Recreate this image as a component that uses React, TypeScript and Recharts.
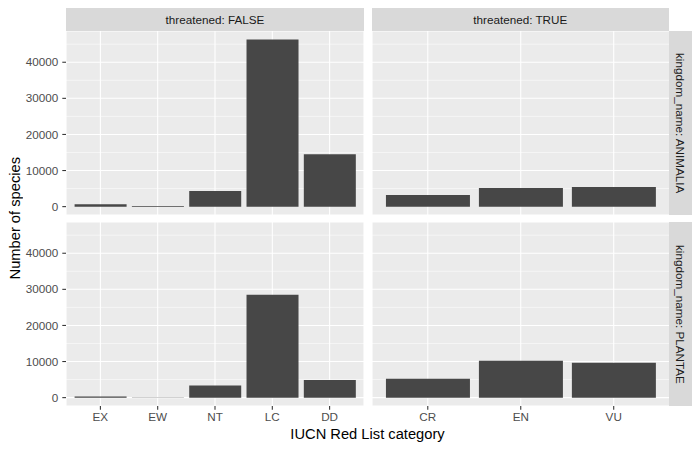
import React from "react";
import { BarChart, Bar, XAxis, YAxis, CartesianGrid } from "recharts";

const falseCategories = ["EX", "EW", "NT", "LC", "DD"];
const trueCategories = ["CR", "EN", "VU"];
const animaliaFalse = [650, 200, 4300, 46300, 14500];
const animaliaTrue = [3200, 5150, 5450];
const plantaeFalse = [280, 40, 3330, 28500, 4900];
const plantaeTrue = [5200, 10200, 9650];
const yTicks = [0, 10000, 20000, 30000, 40000];
const yMinorTicks = [5000, 15000, 25000, 35000, 45000];
const yDomain: [number, number] = [-2317, 48653];

const FONT = '"Liberation Sans", Arial, Helvetica, sans-serif';
const AXIS_TEXT = "#4D4D4D";
const TICK_LINE = "#333333";

const toRows = (cats: string[], values: number[]) =>
  cats.map((category, i) => ({ category, count: values[i] }));

interface PanelProps {
  categories: string[];
  values: number[];
  left: number;
  top: number;
  panelWidth: number;
  panelHeight: number;
  showY?: boolean;
  showX?: boolean;
}

const Y_AXIS_W = 66;
const X_AXIS_H = 28;

const Panel = ({
  categories,
  values,
  left,
  top,
  panelWidth,
  panelHeight,
  showY = false,
  showX = false,
}: PanelProps) => {
  // ggplot discrete expansion: 0.6 units each side, bars 0.9 wide
  const unit = panelWidth / (categories.length + 0.2);
  const pad = (panelWidth - unit * categories.length) / 2;
  const width = panelWidth + (showY ? Y_AXIS_W : 0);
  const height = panelHeight + (showX ? X_AXIS_H : 0);
  const tick = { fill: AXIS_TEXT, fontSize: 11.7, fontFamily: FONT };

  return (
    <div style={{ position: "absolute", left: left - (showY ? Y_AXIS_W : 0), top }}>
      <BarChart
        width={width}
        height={height}
        data={toRows(categories, values)}
        margin={{ top: 0, right: 0, bottom: 0, left: 0 }}
        barCategoryGap="5%"
      >
        <CartesianGrid
          fill="#EBEBEB"
          fillOpacity={1}
          stroke="#FFFFFF"
          strokeWidth={1.07}
        />
        <CartesianGrid
          horizontalValues={yMinorTicks}
          vertical={false}
          stroke="#FFFFFF"
          strokeWidth={0.53}
        />
        <XAxis
          dataKey="category"
          hide={!showX}
          height={X_AXIS_H}
          padding={{ left: pad, right: pad }}
          axisLine={false}
          tickLine={{ stroke: TICK_LINE, strokeWidth: 1.07 }}
          tickSize={3.7}
          tickMargin={2.5}
          tick={tick}
          interval={0}
        />
        <YAxis
          hide={!showY}
          width={Y_AXIS_W}
          domain={yDomain}
          ticks={yTicks}
          allowDataOverflow
          axisLine={false}
          tickLine={{ stroke: TICK_LINE, strokeWidth: 1.07 }}
          tickSize={3.7}
          tickMargin={4}
          tick={tick}
        />
        <Bar dataKey="count" fill="#474747" isAnimationActive={false} />
      </BarChart>
    </div>
  );
};

const stripBase: React.CSSProperties = {
  position: "absolute",
  background: "#D9D9D9",
  color: "#1A1A1A",
  fontSize: 11.7,
  display: "flex",
  alignItems: "center",
  justifyContent: "center",
};

const TopStrip = ({ label, left, width }: { label: string; left: number; width: number }) => (
  <div style={{ ...stripBase, left, top: 8, width, height: 23 }}>{label}</div>
);

const SideStrip = ({ label, top, height }: { label: string; top: number; height: number }) => (
  <div style={{ ...stripBase, left: 669, top, width: 23, height }}>
    <span style={{ writingMode: "vertical-rl" }}>{label}</span>
  </div>
);

export default function App() {
  const colL = 66;
  const colLW = 298;
  const colR = 371.5;
  const colRW = 297.5;
  const rowT = 31;
  const rowB = 222;
  const rowH = 184;

  return (
    <div
      style={{
        position: "absolute",
        left: 0,
        top: 0,
        width: 700,
        height: 450,
        background: "#FFFFFF",
        fontFamily: FONT,
        overflow: "hidden",
      }}
    >
      <TopStrip label="threatened: FALSE" left={colL} width={colLW} />
      <TopStrip label="threatened: TRUE" left={colR} width={colRW} />
      <SideStrip label="kingdom_name: ANIMALIA" top={rowT} height={rowH} />
      <SideStrip label="kingdom_name: PLANTAE" top={rowB} height={rowH} />

      <Panel categories={falseCategories} values={animaliaFalse} left={colL} top={rowT} panelWidth={colLW} panelHeight={rowH} showY />
      <Panel categories={trueCategories} values={animaliaTrue} left={colR} top={rowT} panelWidth={colRW} panelHeight={rowH} />
      <Panel categories={falseCategories} values={plantaeFalse} left={colL} top={rowB} panelWidth={colLW} panelHeight={rowH} showY showX />
      <Panel categories={trueCategories} values={plantaeTrue} left={colR} top={rowB} panelWidth={colRW} panelHeight={rowH} showX />

      <div
        style={{
          position: "absolute",
          left: 6,
          top: rowT,
          height: rowB + rowH - rowT,
          width: 18,
          display: "flex",
          alignItems: "center",
          justifyContent: "center",
          fontSize: 14.7,
          color: "#000000",
        }}
      >
        <span style={{ writingMode: "vertical-rl", transform: "rotate(180deg)" }}>Number of species</span>
      </div>
      <div
        style={{
          position: "absolute",
          left: colL,
          top: 426,
          width: colR + colRW - colL,
          textAlign: "center",
          fontSize: 14.7,
          color: "#000000",
        }}
      >
        IUCN Red List category
      </div>
    </div>
  );
}
